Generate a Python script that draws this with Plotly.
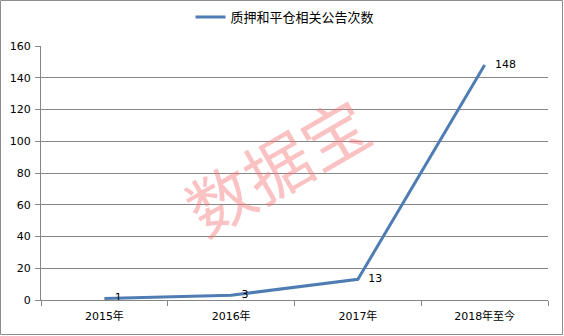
import plotly.graph_objects as go

# Categories and counts
periods = ["2015年", "2016年", "2017年", "2018年至今"]
counts = [1, 3, 13, 148]
series_name = "质押和平仓相关公告次数"
y_ticks = [0, 20, 40, 60, 80, 100, 120, 140, 160]

W, H = 564, 336
L, R, T, B = 41, 16, 46, 36
pw, ph = W - L - R, H - T - B

font_family = "DejaVu Sans, Noto Sans CJK SC"
grid_col = "#868686"

fig = go.Figure()
fig.add_trace(go.Scatter(
    x=periods, y=counts, name=series_name,
    mode="lines+text",
    line=dict(color="#4F7DB3", width=3),
    text=["   " + str(v) for v in counts],
    textposition="middle right",
    textfont=dict(size=11, color="#000000", family=font_family),
    cliponaxis=False,
))

# Outer chart border (paper coordinates of the full canvas)
def px_x(x):
    return (x - L) / pw

def px_y(y):
    return (H - B - y) / ph

fig.add_shape(type="rect", xref="paper", yref="paper",
              x0=px_x(0.5), x1=px_x(W - 1.5), y0=px_y(H - 1.5), y1=px_y(0.5),
              line=dict(color="#8c8c8c", width=1), layer="below")

# Watermark
fig.add_annotation(text="数据宝", xref="paper", yref="paper",
                   x=px_x(276), y=px_y(164), showarrow=False, textangle=-30,
                   font=dict(size=66, color="rgba(244,120,120,0.45)",
                             family="Noto Sans CJK SC"))

fig.update_layout(
    width=W, height=H,
    margin=dict(l=L, r=R, t=T, b=B, autoexpand=False),
    paper_bgcolor="white", plot_bgcolor="white",
    font=dict(family=font_family, size=11, color="#000000"),
    showlegend=True,
    legend=dict(orientation="h", x=px_x(285), xanchor="center", y=px_y(17), yanchor="middle",
                font=dict(size=13, family=font_family), itemwidth=30,
                bgcolor="rgba(0,0,0,0)"),
    xaxis=dict(type="category", showgrid=False, showline=True, linecolor=grid_col,
               ticks="outside", tickson="boundaries", ticklen=5, tickcolor=grid_col,
               tickfont=dict(size=11), range=[-0.5, 3.5], zeroline=False,
               ticklabelstandoff=6),
    yaxis=dict(range=[0, 160], tickvals=y_ticks, showgrid=True, gridcolor=grid_col,
               gridwidth=1, showline=True, linecolor=grid_col, ticks="outside",
               ticklen=5, tickcolor=grid_col, tickfont=dict(size=11), zeroline=False,
               ticklabelstandoff=2),
)

fig.write_html("out.html")
